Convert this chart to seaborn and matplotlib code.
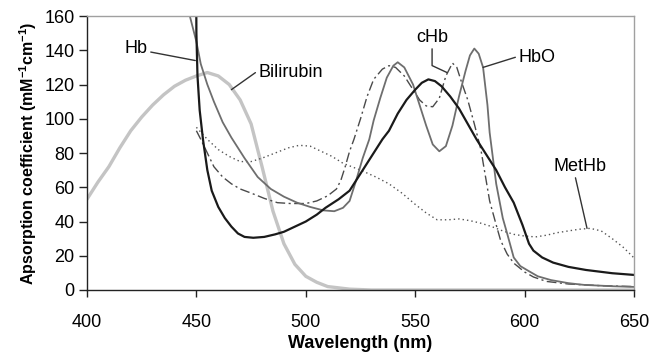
import numpy as np
import matplotlib
matplotlib.use("Agg")
import matplotlib.pyplot as plt
import seaborn as sns

# values (wavelength nm, absorption mM^-1 cm^-1)
bili_x = [400, 405, 410, 415, 420, 425, 430, 435, 440, 445, 450, 455, 460, 465, 470, 475,
          480, 485, 490, 495, 500, 505, 510, 520, 530, 560, 600, 650]
bili_y = [53, 63, 72, 83, 93, 101, 108, 114, 119, 122.5, 125, 127, 125, 120, 111, 97,
          72, 46, 27, 15, 8, 4.5, 2, 0.5, 0, 0, 0, 0]

hb_x = [449.5, 450, 450.5, 451.5, 453, 455, 457, 460, 463, 466, 469, 472, 476, 481, 486, 490,
        495, 500, 505, 509, 515, 520, 523, 527, 531, 535, 538, 542, 546, 550, 553, 556, 559,
        562, 566, 570, 574, 578, 583, 587, 591, 595, 599, 602, 604, 608, 613, 620, 628, 640, 650]
hb_y = [300, 150, 125, 105, 88, 70, 58, 48.5, 42, 37, 33, 31, 30.5, 31, 32.5, 34,
        37, 40, 44, 48, 53, 58, 64, 72, 80, 88, 93, 103, 111, 117, 121, 123, 122,
        119, 113, 106, 97, 88, 78, 70, 60, 51, 38, 27, 23, 19, 16, 13.5, 11.7, 9.8, 8.8]

hbo_x = [445, 447, 450, 452, 455, 458, 462, 466, 472, 478, 484, 490, 496, 502, 508, 513, 517,
         520, 523, 526, 529, 531, 534, 537, 540, 542, 545, 549, 552, 555, 558, 561, 564, 567,
         570, 573, 575, 577, 579, 581, 583, 584, 587, 590, 592, 595, 598, 601, 606, 612, 620,
         627, 640, 650]
hbo_y = [230, 160, 145, 132, 120, 110, 98, 89, 77, 66, 59, 54.5, 51, 48.5, 46.5, 46, 48,
         52, 64, 77, 88, 99, 112, 124, 131, 133, 130, 120, 108, 96, 85, 81, 84, 96,
         113, 128, 137, 141, 138, 130, 108, 92, 62, 42, 33, 19, 14, 11.7, 8, 5.8, 4,
         3, 2.2, 1.8]

chb_x = [450, 452, 455, 458, 462, 466, 470, 475, 481, 487, 493, 500, 505, 510, 514, 516, 518,
         520, 522, 525, 528, 531, 535, 538, 541, 545, 549, 552, 555, 558, 561, 564, 567, 569,
         571, 574, 577, 580, 582, 584, 587, 589, 592, 595, 600, 604, 610, 620, 635, 650]
chb_y = [93, 88, 80, 72, 66, 62, 59, 56.6, 53.5, 51, 50.5, 50.5, 52, 55, 59, 64, 72,
         81, 88, 100, 113, 123, 129, 131, 130, 125, 117, 111, 107.5, 107, 112, 125, 132.5, 130,
         122, 111, 97, 82, 67, 52, 38, 29, 21, 15.7, 10.5, 7.6, 5, 3.5, 2.5, 2]

methb_x = [450, 455, 460, 465, 470, 475, 480, 486, 492, 497, 502, 507, 512, 517, 525, 532, 538,
           544, 550, 555, 560, 565, 570, 575, 580, 585, 590, 595, 600, 605, 610, 615, 620, 625,
           630, 635, 640, 645, 650]
methb_y = [95, 88, 82, 78, 75, 75, 77, 80, 83, 84.5, 84, 81, 78, 74, 70, 66, 62,
           56.5, 50, 45, 41, 41, 41.5, 40.5, 39, 37, 34.5, 32.5, 31.5, 31, 32, 33.5, 34.5, 35.5,
           36, 34.5, 30, 25, 18.7]

# label text, text position, point on curve
label_names = ["Hb", "Bilirubin", "cHb", "HbO", "MetHb"]
label_text_xy = [(422.4, 141.3), (493.2, 127.3), (557.7, 147.7), (605.7, 136), (625.3, 72.4)]
label_curve_xy = [(449.5, 134), (466, 117), (564.5, 127), (581, 130), (628.5, 36)]

sns.set_theme(style="white")
plt.rcParams["font.family"] = ["Liberation Sans", "DejaVu Sans"]
plt.rcParams["mathtext.fontset"] = "custom"
plt.rcParams["mathtext.bf"] = "Liberation Sans:bold"
plt.rcParams["mathtext.rm"] = "Liberation Sans"

fig = plt.figure(figsize=(6.51, 3.56), dpi=100)
ax = fig.add_axes([0.1336, 0.1854, 0.974 - 0.1336, 0.955 - 0.1854])

sns.lineplot(x=bili_x, y=bili_y, ax=ax, color="#c4c4c4", lw=2.4, sort=False, errorbar=None)
sns.lineplot(x=methb_x, y=methb_y, ax=ax, color="#555555", lw=1.0, dashes=(1, 2.2),
             sort=False, errorbar=None)
sns.lineplot(x=chb_x, y=chb_y, ax=ax, color="#4a4a4a", lw=1.0, dashes=(7, 2.5, 1.5, 2.5),
             sort=False, errorbar=None)
sns.lineplot(x=hbo_x, y=hbo_y, ax=ax, color="#6e6e6e", lw=1.3, sort=False, errorbar=None)
sns.lineplot(x=hb_x, y=hb_y, ax=ax, color="#1a1a1a", lw=1.6, sort=False, errorbar=None)

ax.set_xlim(400, 650)
ax.set_ylim(0, 160)
ax.set_xticks(np.arange(400, 651, 50))
ax.set_yticks(np.arange(0, 161, 20))

for s in ["left", "bottom"]:
    ax.spines[s].set_color("#222222")
    ax.spines[s].set_linewidth(1.0)
for s in ["top", "right"]:
    ax.spines[s].set_color("#a0a0a0")
    ax.spines[s].set_linewidth(1.0)

ax.tick_params(axis="x", direction="out", length=5, width=1, color="#222222",
               pad=12, labelsize=13, labelcolor="black", bottom=True)
ax.tick_params(axis="y", direction="out", length=6, width=1, color="#222222",
               pad=3, labelsize=13, labelcolor="black", left=True)

ax.set_xlabel("Wavelength (nm)", fontsize=13, fontweight="bold", labelpad=3, color="black")
ax.set_ylabel(r"Apsorption coefficient (mM$^{\mathbf{-1}}$cm$^{\mathbf{-1}}$)",
              fontsize=11.5, fontweight="bold", labelpad=4, color="black")

relpos = [(1.0, 0.3), (0.0, 0.6), (0.5, 0.0), (0.0, 0.55), (0.4, 0.0)]
conns = ["arc3", "arc3", "angle,angleA=90,angleB=-25,rad=0", "arc3", "arc3"]
for name, txy, cxy, rp, cs in zip(label_names, label_text_xy, label_curve_xy, relpos, conns):
    ax.annotate(name, xy=cxy, xytext=txy, ha="center", va="center", fontsize=13,
                color="black",
                arrowprops=dict(arrowstyle="-", color="#333333", lw=1.0, relpos=rp,
                                connectionstyle=cs, shrinkA=0, shrinkB=0))

fig.savefig("out.png", dpi=100, facecolor="white")
